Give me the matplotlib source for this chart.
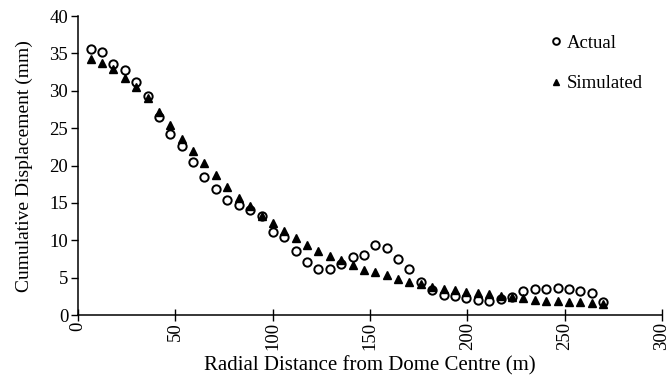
import numpy as np
import matplotlib
matplotlib.use("Agg")
import matplotlib.pyplot as plt

# radial distance of each survey point (m)
distance = [6.5, 12.4, 18.2, 24.1, 29.9, 35.8, 41.6, 47.5, 53.3, 59.2,
            65.0, 70.9, 76.7, 82.6, 88.4, 94.3, 100.1, 106.0, 111.8, 117.7,
            123.5, 129.4, 135.2, 141.1, 146.9, 152.8, 158.6, 164.5, 170.3, 176.2,
            182.0, 187.9, 193.7, 199.6, 205.4, 211.3, 217.1, 223.0, 228.8, 234.7,
            240.5, 246.4, 252.2, 258.1, 263.9, 269.8]

# measured displacement (mm)
actual = [35.6, 35.2, 33.6, 32.8, 31.2, 29.3, 26.5, 24.2, 22.6, 20.5,
          18.5, 16.9, 15.4, 14.7, 14.0, 13.2, 11.1, 10.4, 8.6, 7.05,
          6.2, 6.15, 6.8, 7.8, 8.0, 9.4, 9.0, 7.5, 6.15, 4.5,
          3.35, 2.75, 2.5, 2.25, 2.05, 1.9, 2.2, 2.4, 3.2, 3.5,
          3.55, 3.6, 3.5, 3.25, 2.9, 1.75]

# model output (mm)
simulated = [34.2, 33.7, 32.9, 31.7, 30.5, 29.0, 27.2, 25.4, 23.6, 22.0,
             20.3, 18.7, 17.2, 15.7, 14.6, 13.2, 12.3, 11.2, 10.3, 9.4,
             8.6, 7.9, 7.4, 6.7, 6.1, 5.8, 5.35, 4.8, 4.45, 4.15,
             3.8, 3.5, 3.3, 3.1, 2.95, 2.8, 2.55, 2.4, 2.3, 2.0,
             1.9, 1.9, 1.8, 1.7, 1.6, 1.5]

plt.rcParams["font.family"] = ["Liberation Serif", "DejaVu Serif"]
fs = 13.5

fig = plt.figure(figsize=(6.72, 3.82), dpi=100)
ax = fig.add_axes([0.116, 0.175, 0.869, 0.783])

ax.plot(distance, actual, linestyle="none", marker="o", markersize=6,
        markerfacecolor="none", markeredgecolor="black", markeredgewidth=1.4,
        label="Actual")
ax.plot(distance, simulated, linestyle="none", marker="^", markersize=5.5,
        color="black", label="Simulated")

ax.set_xlim(0, 300)
ax.set_ylim(0, 40)
ax.set_xticks(np.arange(0, 301, 50))
ax.set_yticks(np.arange(0, 41, 5))
ax.tick_params(axis="x", direction="inout", length=8, width=1, rotation=90, labelsize=fs, pad=1)
ax.tick_params(axis="y", direction="out", length=5, width=1, labelsize=fs, pad=2)

for s in ["top", "right"]:
    ax.spines[s].set_visible(False)
for s in ["left", "bottom"]:
    ax.spines[s].set_linewidth(1.1)

ax.set_xlabel("Radial Distance from Dome Centre (m)", fontsize=15, labelpad=4)
ax.set_ylabel("Cumulative Displacement (mm)", fontsize=14, labelpad=12)

ax.legend(loc="upper right", bbox_to_anchor=(1.0, 1.0), frameon=False,
          handletextpad=0.1, labelspacing=1.25, fontsize=fs, handlelength=1.0,
          markerscale=0.8, borderaxespad=0.6)

fig.savefig("out.png", dpi=100)
